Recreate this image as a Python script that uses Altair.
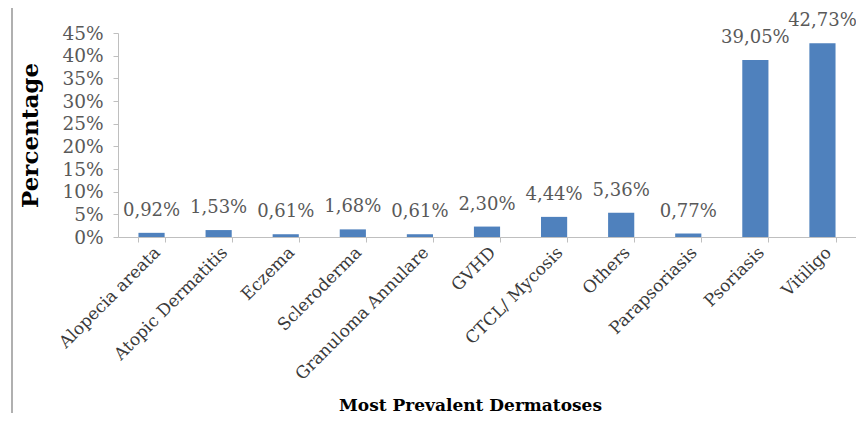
import altair as alt
import pandas as pd

categories = ["Alopecia areata", "Atopic Dermatitis", "Eczema", "Scleroderma",
              "Granuloma Annulare", "GVHD", "CTCL/ Mycosis", "Others",
              "Parapsoriasis", "Psoriasis", "Vitiligo"]
values = [0.92, 1.53, 0.61, 1.68, 0.61, 2.30, 4.44, 5.36, 0.77, 39.05, 42.73]
y_ticks = [0, 5, 10, 15, 20, 25, 30, 35, 40, 45]

df = pd.DataFrame({
    "cat": categories,
    "val": values,
    "label": [f"{v:.2f}%".replace(".", ",") for v in values],
})

FONT = "DejaVu Serif"
GRAY = "#595959"

xenc = alt.X("cat:N", sort=categories,
             scale=alt.Scale(paddingInner=0.61, paddingOuter=0.305),
             axis=alt.Axis(title="Most Prevalent Dermatoses", labelAngle=-45,
                           labelAlign="right", labelBaseline="top",
                           labelFont=FONT, labelFontSize=17, labelColor="#3a3a3a",
                           labelPadding=2, labelOverlap=False, labelLimit=400,
                           titleFont=FONT, titleFontSize=17, titleFontWeight="bold",
                           titleColor="black", titleX=352, titleY=160,
                           tickBand="extent", tickColor="#bfbfbf", tickSize=5,
                           domainColor="#bfbfbf"))
yenc = alt.Y("val:Q", scale=alt.Scale(domain=[0, 45], nice=False),
             axis=alt.Axis(title="Percentage", values=y_ticks,
                           labelExpr="datum.value + '%'", grid=False,
                           labelOverlap=False, labelPadding=10,
                           labelFont=FONT, labelFontSize=18.5, labelColor=GRAY,
                           titleFont=FONT, titleFontSize=23, titleFontWeight="bold",
                           titleColor="black", titlePadding=19,
                           tickColor="#bfbfbf", tickSize=5, domainColor="#bfbfbf"))

base = alt.Chart(df)
bars = base.mark_bar(color="#4F81BD").encode(x=xenc, y=yenc)
text = base.mark_text(font=FONT, fontSize=18, color=GRAY, baseline="middle",
                      dy=-22).encode(x=xenc, y=yenc, text="label:N")
frame = alt.Chart(df).mark_rule(color="#b0b0b0", strokeWidth=2).encode(
    x=alt.value(-106), y=alt.value(-25), y2=alt.value(400))

chart = alt.layer(frame, bars, text).properties(
    width=738, height=204,
    autosize=alt.AutoSizeParams(type="none"),
    padding={"left": 110, "top": 25, "right": 0, "bottom": 176},
).configure_view(stroke=None)

chart.save("out.html", embed_options={"renderer": "svg", "actions": False})
